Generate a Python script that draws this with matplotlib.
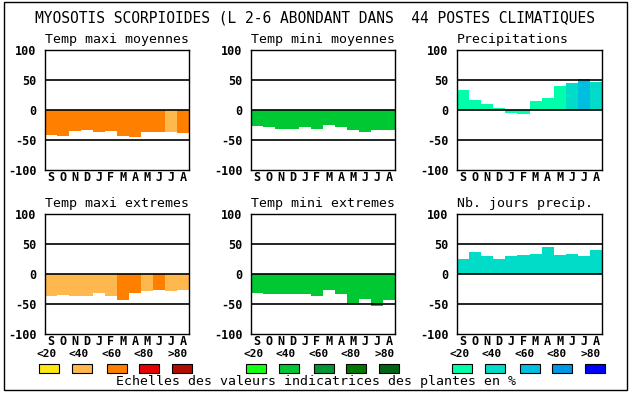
import numpy as np
import matplotlib
matplotlib.use("Agg")
import matplotlib.pyplot as plt
from matplotlib.patches import Rectangle

months = ["S", "O", "N", "D", "J", "F", "M", "A", "M", "J", "J", "A"]
title = "MYOSOTIS SCORPIOIDES (L 2-6 ABONDANT DANS  44 POSTES CLIMATIQUES"

# values, classes = colour scale index (0:<20 ... 4:>80)
tmax_moy = [-42, -43, -35, -33, -37, -35, -43, -45, -37, -37, -37, -38]
tmax_moy_cls = [2, 2, 2, 2, 2, 2, 2, 2, 2, 2, 1, 2]
tmin_moy = [-27, -28, -32, -32, -28, -32, -25, -28, -33, -37, -33, -33]
tmin_moy_cls = [1] * 12
precip = [33, 17, 10, 3, -5, -7, 15, 20, 40, 45, 52, 47]
precip_cls = [0, 0, 0, 0, 0, 0, 0, 0, 0, 1, 2, 1]
tmax_ext = [-37, -35, -37, -37, -32, -37, -44, -32, -28, -27, -28, -27]
tmax_ext_cls = [1, 1, 1, 1, 1, 1, 2, 2, 1, 2, 1, 1]
tmin_ext = [-32, -33, -33, -33, -33, -37, -27, -33, -50, -42, -53, -43]
tmin_ext_cls = [1] * 12
nb_jours = [25, 37, 30, 25, 30, 32, 33, 45, 32, 33, 30, 40]
nb_jours_cls = [1] * 12

scale_labels = ["<20", "<40", "<60", "<80", ">80"]
warm = ["#ffe614", "#ffb84d", "#ff8000", "#e60000", "#b00c00"]
green = ["#14ff14", "#00c832", "#009632", "#007800", "#006414"]
blue = ["#00ffaa", "#00dcc8", "#00bee0", "#0096e6", "#0000ff"]

W, H = 630, 394
fig = plt.figure(figsize=(6.3, 3.94), dpi=100)
fig.patch.set_facecolor("white")

mono = "DejaVu Sans Mono"


def px(x, y):
    return x / W, 1 - y / H


# outer frame
fig.add_artist(Rectangle(px(4, 390), 623 / W, 388 / H, fill=False,
                         edgecolor="black", lw=1, transform=fig.transFigure))

fig.text(*px(315, 18), title, ha="center", va="center", family=mono,
         fontsize=10.5)

panels = [
    ("Temp maxi moyennes", tmax_moy, tmax_moy_cls, warm, 45, 50, 144),
    ("Temp mini moyennes", tmin_moy, tmin_moy_cls, green, 251, 50, 144),
    ("Precipitations", precip, precip_cls, blue, 457, 50, 145),
    ("Temp maxi extremes", tmax_ext, tmax_ext_cls, warm, 45, 214, 144),
    ("Temp mini extremes", tmin_ext, tmin_ext_cls, green, 251, 214, 144),
    ("Nb. jours precip.", nb_jours, nb_jours_cls, blue, 457, 214, 145),
]

for name, vals, cls, pal, x0, y0, w in panels:
    l, b = px(x0, y0 + 120)
    ax = fig.add_axes([l, b, w / W, 120 / H])
    x = np.arange(12)
    ax.bar(x, vals, width=1.0, color=[pal[c] for c in cls], linewidth=0,
           zorder=2)
    for v in (50, 0, -50):
        ax.axhline(v, color="black", lw=1.2, zorder=3)
    ax.set_xlim(-0.5, 11.5)
    ax.set_ylim(-100, 100)
    ax.set_yticks([100, 50, 0, -50, -100])
    ax.set_yticklabels(["100", "50", "0", "-50", "-100"], family=mono,
                       fontweight="bold", fontsize=8.5)
    ax.set_xticks(x)
    ax.set_xticklabels(months, family=mono, fontweight="bold", fontsize=8.5)
    ax.tick_params(length=0, axis="y", pad=6)
    ax.tick_params(length=0, axis="x", pad=1)
    for s in ax.spines.values():
        s.set_linewidth(1)
    fig.text(*px(x0, y0 - 11), name, ha="left", va="center", family=mono,
             fontsize=9.5)

# colour scales
box_off = [0, 33, 68, 100, 133]
lab_off = [8, 40, 73, 105, 139]
for g0, pal in zip([39, 246, 452], [warm, green, blue]):
    for i in range(5):
        fig.text(*px(g0 + lab_off[i], 354), scale_labels[i], ha="center",
                 va="center", family=mono, fontweight="bold", fontsize=8)
        fig.add_artist(Rectangle(px(g0 + box_off[i], 373), 20 / W, 9 / H,
                                 facecolor=pal[i], edgecolor="black", lw=0.8,
                                 transform=fig.transFigure))

fig.text(*px(316, 382), "Echelles des valeurs indicatrices des plantes en %",
         ha="center", va="center", family=mono, fontsize=9.5)

fig.savefig("out.png", dpi=100)
